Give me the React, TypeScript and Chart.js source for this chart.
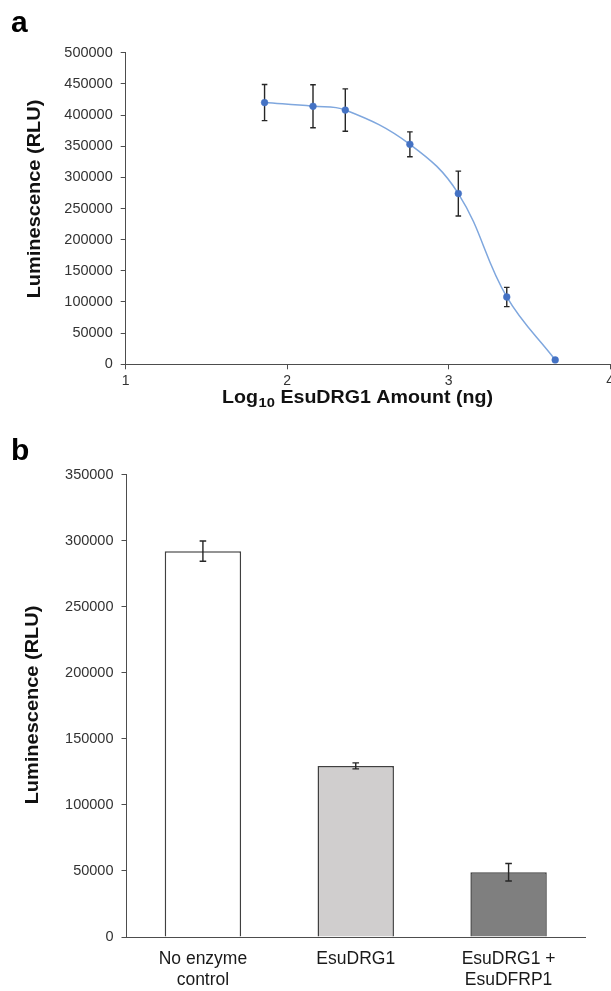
import React, { useEffect, useRef } from 'react';
import { Chart, registerables } from 'chart.js';

Chart.register(...registerables);

const FONT = "'Liberation Sans', Arial, Helvetica, sans-serif";

// ---- Panel a: dose response ----
const doseLog = [1.86, 2.16, 2.36, 2.76, 3.06, 3.36, 3.66];
const doseLum = [420000, 414000, 408000, 353000, 274000, 108000, 7000];
const doseErr = [29000, 34500, 34000, 20000, 36000, 15500, 0];

// ---- Panel b: bar comparison ----
const groups = [['No enzyme', 'control'], 'EsuDRG1', ['EsuDRG1 +', 'EsuDFRP1']];
const groupLum = [292000, 129500, 49000];
const groupErr = [7700, 2300, 6600];
const groupColors = ['#FFFFFF', '#D0CECE', '#7F7F7F'];

const yTitle = 'Luminescence (RLU)';
const xTitleParts = ['Log', '10', ' EsuDRG1 Amount (ng)'];

const AXIS = '#4d4d4d';
const TICK_TXT = '#333333';
const SX = 1.08; // slight horizontal stretch of title lettering

function drawErrorBars(chart: any, cap: number) {
  const ctx = chart.ctx;
  const yScale = chart.scales.y;
  ctx.save();
  ctx.strokeStyle = '#262626';
  ctx.lineWidth = 1.4;
  chart.data.datasets.forEach((ds: any, di: number) => {
    const errs = ds.errors;
    if (!errs) return;
    const meta = chart.getDatasetMeta(di);
    meta.data.forEach((el: any, i: number) => {
      const e = errs[i];
      if (!e) return;
      const raw = ds.data[i];
      const v = typeof raw === 'number' ? raw : raw.y;
      const x = el.x;
      const yt = yScale.getPixelForValue(v + e);
      const yb = yScale.getPixelForValue(v - e);
      ctx.beginPath();
      ctx.moveTo(x, yt);
      ctx.lineTo(x, yb);
      ctx.moveTo(x - cap, yt);
      ctx.lineTo(x + cap, yt);
      ctx.moveTo(x - cap, yb);
      ctx.lineTo(x + cap, yb);
      ctx.stroke();
    });
  });
  ctx.restore();
}

function drawRotatedTitle(ctx: CanvasRenderingContext2D, text: string, x: number, y: number) {
  ctx.save();
  ctx.translate(x, y);
  ctx.rotate(-Math.PI / 2);
  ctx.scale(SX, 1);
  ctx.font = `bold 18.5px ${FONT}`;
  ctx.fillStyle = '#111';
  ctx.textAlign = 'center';
  ctx.textBaseline = 'alphabetic';
  ctx.fillText(text, 0, 0);
  ctx.restore();
}

function drawXTitle(ctx: CanvasRenderingContext2D, cx: number, base: number) {
  const big = `bold 18px ${FONT}`;
  const small = `bold 13.5px ${FONT}`;
  const [p1, p2, p3] = xTitleParts;
  const sx = 1.09;
  ctx.save();
  ctx.fillStyle = '#111';
  ctx.textAlign = 'left';
  ctx.textBaseline = 'alphabetic';
  ctx.font = big;
  const w1 = ctx.measureText(p1).width;
  const w3 = ctx.measureText(p3).width;
  ctx.font = small;
  const w2 = ctx.measureText(p2).width;
  const total = (w1 + w2 + w3 + 0.5) * sx;
  ctx.translate(cx - total / 2, base);
  ctx.scale(sx, 1);
  let x = 0;
  ctx.font = big;
  ctx.fillText(p1, x, 0);
  x += w1 + 0.5;
  ctx.font = small;
  ctx.fillText(p2, x, 3.5);
  x += w2;
  ctx.font = big;
  ctx.fillText(p3, x, 0);
  ctx.restore();
}

function tickFont(size: number) {
  return { family: FONT, size };
}

function ChartA() {
  const ref = useRef<HTMLCanvasElement | null>(null);
  useEffect(() => {
    if (!ref.current) return;
    const W = 617, H = 430;
    const chart = new Chart(ref.current, {
      type: 'line',
      data: {
        datasets: [
          {
            data: doseLog.map((x, i) => ({ x, y: doseLum[i] })),
            errors: doseErr,
            borderColor: '#7FA7DE',
            borderWidth: 1.5,
            tension: 0.4,
            pointRadius: 3.4,
            pointBackgroundColor: '#4472C4',
            pointBorderColor: '#4472C4',
            pointBorderWidth: 0.5,
            fill: false,
          } as any,
        ],
      },
      options: {
        responsive: false,
        animation: false,
        devicePixelRatio: 1,
        layout: { padding: { left: 0, top: 52.7, right: W - 611.6, bottom: 0 } },
        plugins: { legend: { display: false }, tooltip: { enabled: false } },
        scales: {
          x: {
            type: 'linear',
            min: 1,
            max: 4,
            ticks: { stepSize: 1, font: tickFont(14), color: TICK_TXT, padding: 3 },
            grid: { drawOnChartArea: false, drawTicks: true, tickLength: 5, color: AXIS },
            border: { display: true, color: AXIS, width: 1 },
            afterFit: (s: any) => { s.height = H - 364.3; },
          },
          y: {
            min: 0,
            max: 500000,
            ticks: { stepSize: 50000, font: tickFont(14.5), color: TICK_TXT, padding: 8, callback: (v: any) => String(v) },
            grid: { drawOnChartArea: false, drawTicks: true, tickLength: 5, color: AXIS },
            border: { display: true, color: AXIS, width: 1 },
            afterFit: (s: any) => { s.width = 125.7; },
          },
        },
      } as any,
      plugins: [
        {
          id: 'errA',
          beforeDatasetsDraw: (c: any) => drawErrorBars(c, 2.8),
        },
        {
          id: 'titlesA',
          afterDraw: (c: any) => {
            const ctx = c.ctx as CanvasRenderingContext2D;
            drawRotatedTitle(ctx, yTitle, 40, 199);
            drawXTitle(ctx, 357.5, 403);
          },
        },
      ],
    });
    return () => chart.destroy();
  }, []);
  return (
    <canvas
      ref={ref}
      width={617}
      height={430}
      style={{ position: 'absolute', left: 0, top: 0, width: 617, height: 430 }}
    />
  );
}

function ChartB() {
  const ref = useRef<HTMLCanvasElement | null>(null);
  useEffect(() => {
    if (!ref.current) return;
    const W = 611, H = 561;
    const chart = new Chart(ref.current, {
      type: 'bar',
      data: {
        labels: groups as any,
        datasets: [
          {
            data: groupLum,
            errors: groupErr,
            backgroundColor: groupColors,
            borderColor: '#404040',
            borderWidth: 1.5,
            barPercentage: 0.5,
            categoryPercentage: 1,
          } as any,
        ],
      },
      options: {
        responsive: false,
        animation: false,
        devicePixelRatio: 1,
        layout: { padding: { left: 0, top: 44.5, right: W - 585, bottom: 0 } },
        plugins: { legend: { display: false }, tooltip: { enabled: false } },
        scales: {
          x: {
            grid: { display: false, drawTicks: false },
            border: { display: true, color: AXIS, width: 1 },
            ticks: {
              font: { family: FONT, size: 17.5, lineHeight: 1.23 },
              color: '#1a1a1a',
              padding: 11,
              maxRotation: 0,
              autoSkip: false,
            },
            afterFit: (s: any) => { s.height = H - 507; },
          },
          y: {
            min: 0,
            max: 350000,
            ticks: { stepSize: 50000, font: tickFont(14.5), color: TICK_TXT, padding: 8, callback: (v: any) => String(v) },
            grid: { drawOnChartArea: false, drawTicks: true, tickLength: 5, color: AXIS },
            border: { display: true, color: AXIS, width: 1 },
            afterFit: (s: any) => { s.width = 126.5; },
          },
        },
      } as any,
      plugins: [
        {
          id: 'errB',
          afterDatasetsDraw: (c: any) => drawErrorBars(c, 3.3),
        },
        {
          id: 'titlesB',
          afterDraw: (c: any) => {
            drawRotatedTitle(c.ctx, yTitle, 37.5, 275);
          },
        },
      ],
    });
    return () => chart.destroy();
  }, []);
  return (
    <canvas
      ref={ref}
      width={611}
      height={561}
      style={{ position: 'absolute', left: 0, top: 430, width: 611, height: 561 }}
    />
  );
}

const panelLetter: React.CSSProperties = {
  position: 'absolute',
  fontFamily: FONT,
  fontWeight: 'bold',
  fontSize: 30,
  lineHeight: '30px',
  color: '#000',
};

export default function App() {
  return (
    <div
      style={{
        position: 'absolute',
        left: 0,
        top: 0,
        width: 611,
        height: 991,
        overflow: 'hidden',
        background: '#fff',
      }}
    >
      <ChartA />
      <ChartB />
      <div style={{ ...panelLetter, left: 11, top: 6.6 }}>a</div>
      <div style={{ ...panelLetter, left: 11, top: 434.6 }}>b</div>
    </div>
  );
}
